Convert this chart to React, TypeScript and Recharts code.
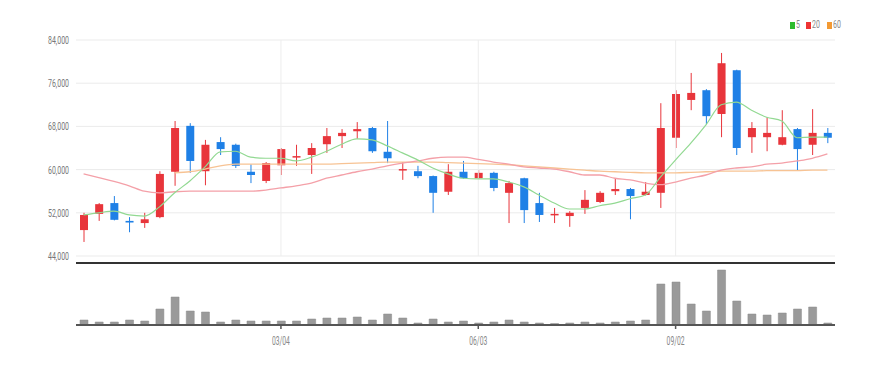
import { ComposedChart, Bar, Line, XAxis, YAxis, CartesianGrid, ReferenceLine, BarChart } from "recharts"

const dates = [
  "12/04", "12/11", "12/18", "12/25", "01/01", "01/08", "01/15", "01/22", "01/29", "02/05",
  "02/12", "02/19", "02/26", "03/04", "03/11", "03/18", "03/25", "04/01", "04/08", "04/15",
  "04/22", "04/29", "05/06", "05/13", "05/20", "05/27", "06/03", "06/10", "06/17", "06/24",
  "07/01", "07/08", "07/15", "07/22", "07/29", "08/05", "08/12", "08/19", "08/26", "09/02",
  "09/09", "09/16", "09/23", "09/30", "10/07", "10/14", "10/21", "10/28", "11/04", "11/11",
]
const opens = [
  48800, 51800, 53800, 50500, 50100, 51200, 59600, 68100, 59700, 65100,
  64600, 59600, 57900, 60800, 62400, 62700, 64700, 66200, 67100, 67700,
  63300, 59900, 59700, 58800, 55900, 59600, 58400, 59400, 55700, 58400,
  53800, 51600, 51400, 52900, 54000, 56000, 56400, 55300, 55700, 65900,
  72900, 74700, 70300, 78400, 66000, 66000, 64600, 67500, 64600, 66800,
]
const closes = [
  51600, 53600, 50700, 50200, 50800, 59200, 67700, 61600, 64600, 63800,
  60700, 59000, 61200, 63800, 62500, 64000, 66200, 66800, 67500, 63400,
  62100, 60100, 58800, 55700, 59600, 58400, 59400, 56600, 57500, 52500,
  51600, 51800, 52000, 54400, 55700, 56400, 55100, 55900, 67700, 74000,
  74200, 69900, 79700, 64000, 67700, 66800, 66000, 63800, 66800, 65900,
]
const highs = [
  52000, 53800, 55100, 51200, 52000, 59700, 69000, 68600, 65500, 66000,
  64800, 61000, 61400, 64000, 64600, 64900, 67700, 67500, 68800, 67900,
  69000, 61400, 60700, 58900, 61000, 61600, 59900, 59600, 57900, 58500,
  55700, 52900, 52300, 56200, 56000, 58400, 56600, 57700, 72300, 74700,
  77900, 74900, 81600, 78500, 68800, 69700, 71000, 67700, 71200, 67700,
]
const lows = [
  46600, 50500, 50600, 48400, 49200, 51000, 57000, 59400, 57100, 62700,
  60300, 57500, 57500, 59000, 60700, 59200, 63100, 64000, 65700, 63100,
  61200, 58100, 58400, 52000, 55300, 58300, 58300, 56000, 50100, 50100,
  50300, 50100, 49400, 51800, 53800, 55300, 50800, 55200, 52900, 64000,
  71000, 68400, 66000, 62700, 63100, 63400, 64500, 59900, 62700, 64900,
]
const volumes = [
  5, 3, 3, 5, 4, 16, 28, 14, 13, 3,
  5, 4, 4, 4, 4, 6, 7, 7, 8, 5,
  11, 7, 2, 6, 3, 4, 2, 3, 5, 3,
  2, 1.5, 2, 3, 2, 3, 4, 5, 41, 43,
  21, 14, 55, 24, 11, 10, 12, 16, 18, 2,
]
const ma5 = [
  51600, 52000, 52300, 51600, 51400, 53100, 55700, 57900, 60500, 63300,
  63400, 62300, 62100, 62100, 61600, 62300, 63400, 64700, 65700, 65500,
  64400, 63100, 61800, 60300, 59200, 58400, 58300, 58300, 57700, 56800,
  55300, 53800, 52700, 52700, 53300, 53800, 54600, 55300, 58600, 61800,
  64900, 68300, 72000, 72500, 71000, 69700, 69000, 65900, 66000, 66000,
]
const ma20 = [
  59200, 58500, 57800, 57000, 56000, 55700, 55900, 56000, 56000, 56000,
  56000, 56000, 56200, 56600, 57000, 57500, 58400, 59000, 59600, 60100,
  60700, 61200, 61600, 62100, 62300, 62300, 61900, 61400, 61000, 60500,
  60300, 60100, 59600, 59000, 59000, 58400, 58100, 57500, 57200, 57700,
  58400, 59000, 59900, 60300, 60500, 61000, 61200, 61600, 62100, 62900,
]
const ma60 = [
  null, null, null, null, null, null, 59400, 59600, 60100, 60700,
  61000, 61000, 61000, 61000, 61000, 61000, 61000, 61100, 61200, 61300,
  61400, 61400, 61400, 61400, 61300, 61200, 61100, 61000, 60900, 60700,
  60500, 60300, 60100, 59900, 59700, 59600, 59500, 59400, 59400, 59400,
  59500, 59600, 59700, 59700, 59700, 59800, 59800, 59800, 59900, 59900,
]
const priceTicks = [44000, 52000, 60000, 68000, 76000, 84000]
const dateTicks = ["03/04", "06/03", "09/02"]

const RED = "#e8353b"
const BLUE = "#1f80e6"

const data = dates.map((d, i) => ({
  date: d,
  open: opens[i],
  close: closes[i],
  high: highs[i],
  low: lows[i],
  range: [lows[i], highs[i]],
  volume: volumes[i],
  ma5: ma5[i],
  ma20: ma20[i],
  ma60: ma60[i],
}))

const Candle = (props: any) => {
  const { x, y, width, height, payload } = props
  const top = height < 0 ? y + height : y
  const h = Math.abs(height)
  const { open, close, high, low } = payload
  const color = close >= open ? RED : BLUE
  const k = h / (high - low)
  const yOf = (v: number) => top + (high - v) * k
  const bTop = yOf(Math.max(open, close))
  const bBot = yOf(Math.min(open, close))
  const cx = x + width / 2
  return (
    <g>
      <line x1={cx} x2={cx} y1={top} y2={top + h} stroke={color} strokeWidth={1} />
      <rect x={x} y={bTop} width={width} height={Math.max(bBot - bTop, 1.5)} fill={color} />
    </g>
  )
}

const PriceTick = ({ x, y, payload }: any) => (
  <text x={x} y={y} dy={4} textAnchor="end" fill="#777" fontSize={11} textLength={21} lengthAdjust="spacingAndGlyphs">
    {payload.value.toLocaleString("en-US")}
  </text>
)

const DateTick = ({ x, y, payload }: any) => {
  if (!dateTicks.includes(payload.value)) return null
  return (
    <g>
      <line x1={x} x2={x} y1={y} y2={y + 4} stroke="#555" strokeWidth={1.5} />
      <text x={x} y={y + 20} textAnchor="middle" fill="#888" fontSize={12} textLength={18} lengthAdjust="spacingAndGlyphs">
        {payload.value}
      </text>
    </g>
  )
}

const legendItems = [
  { label: "5", color: "#2dbb2d" },
  { label: "20", color: "#ee3333" },
  { label: "60", color: "#f39a33" },
]

export default function App() {
  return (
    <div style={{ position: "absolute", left: 0, top: 0, width: 888, height: 365, background: "#fff", fontFamily: "Roboto, sans-serif" }}>
      <div style={{ position: "absolute", left: 790, top: 19, display: "flex", gap: 4, fontSize: 10, color: "#888", lineHeight: "12px" }}>
        {legendItems.map((l) => (
          <div key={l.label} style={{ display: "flex", alignItems: "center", gap: 1 }}>
            <span style={{ display: "inline-block", width: 5, height: 7, background: l.color }} />
            <span style={{ display: "inline-block", transform: "scaleX(0.7)", transformOrigin: "left" }}>{l.label}</span>
          </div>
        ))}
      </div>
      <div style={{ position: "absolute", left: 0, top: 0 }}>
        <ComposedChart width={888} height={270} data={data} margin={{ top: 40, right: 53, left: 0, bottom: 14 }}>
          <CartesianGrid vertical={false} stroke="#ebebeb" />
          <XAxis dataKey="date" hide />
          <YAxis
            domain={[44000, 84000]}
            ticks={priceTicks}
            width={76}
            axisLine={false}
            tickLine={false}
            tickMargin={1}
            tick={<PriceTick />}
            interval={0}
          />
          {dateTicks.map((d) => (
            <ReferenceLine key={d} x={d} stroke="#ededed" />
          ))}
          <Line type="monotone" dataKey="ma60" stroke="#f7c394" strokeWidth={1.3} dot={false} isAnimationActive={false} connectNulls={false} />
          <Line type="monotone" dataKey="ma20" stroke="#f4a0a8" strokeWidth={1.3} dot={false} isAnimationActive={false} />
          <Line type="monotone" dataKey="ma5" stroke="#92d992" strokeWidth={1.2} dot={false} isAnimationActive={false} />
          <Bar dataKey="range" barSize={8} shape={<Candle />} isAnimationActive={false} />
        </ComposedChart>
      </div>
      <div style={{ position: "absolute", left: 0, top: 258 }}>
        <BarChart width={888} height={107} data={data} margin={{ top: 5, right: 53, left: 76, bottom: 0 }}>
          <XAxis
            dataKey="date"
            height={40}
            interval={0}
            tickLine={false}
            tickSize={0}
            tickMargin={0}
            axisLine={{ stroke: "#555", strokeWidth: 2 }}
            tick={<DateTick />}
          />
          <YAxis hide domain={[0, 62]} />
          <ReferenceLine y={62} stroke="#333" strokeWidth={2} />
          <Bar dataKey="volume" barSize={8} fill="#9a9a9a" stroke="#8a8a8a" strokeWidth={0.5} isAnimationActive={false} />
        </BarChart>
      </div>
    </div>
  )
}
